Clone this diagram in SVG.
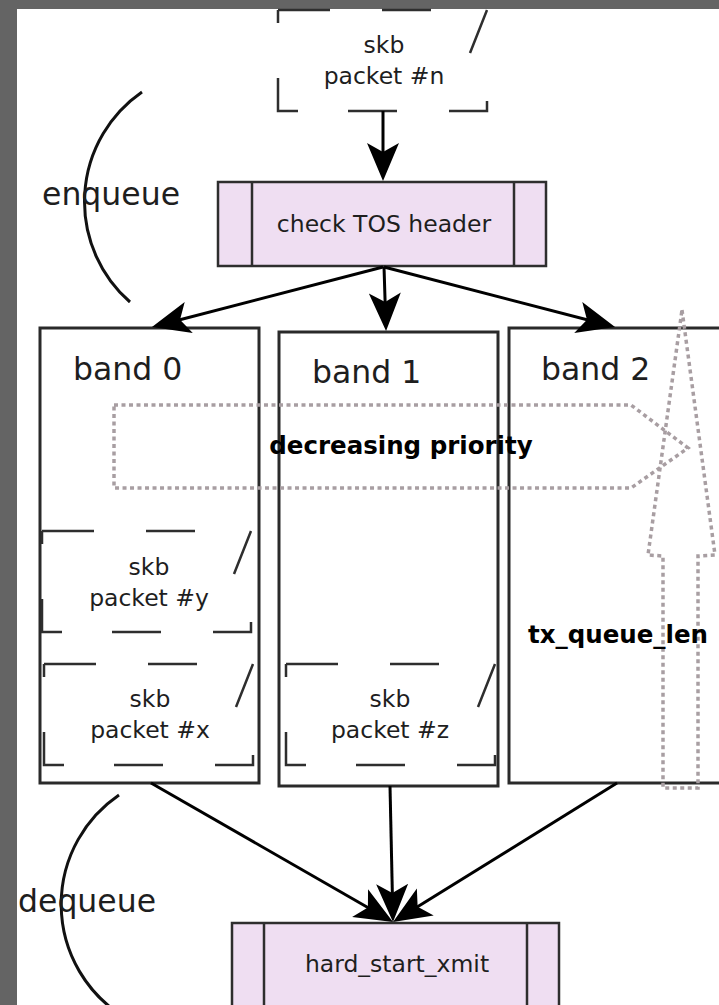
<svg xmlns="http://www.w3.org/2000/svg" xmlns:xlink="http://www.w3.org/1999/xlink" width="719" height="1005" viewBox="0 0 719 1005">
  <style>
    .lbl { font-family: "DejaVu Sans", "Liberation Sans", sans-serif; fill: #1e1e1e; }
    .small { font-size: 23.5px; }
    .big { font-size: 31.5px; }
    .bold { font-family: "DejaVu Sans", "Liberation Sans", sans-serif; font-weight: bold; font-size: 24.5px; fill: #000; }
    .band { fill: #fff; stroke: #2a2a2a; stroke-width: 3; }
    .proc { fill: #efdef2; stroke: #2e2e2e; stroke-width: 2.5; }
    .frame { fill: none; stroke: #2e2e2e; stroke-width: 2.5; }
    .edge { fill: none; stroke: #000; stroke-width: 3; }
    .arc { fill: none; stroke: #111; stroke-width: 3; }
    .dots { fill: none; stroke: #a89ea2; stroke-width: 3.5; stroke-dasharray: 4 3.5; }
  </style>
  <defs>
    <marker id="head" markerUnits="userSpaceOnUse" orient="auto" markerWidth="1" markerHeight="1" refX="0" refY="0" overflow="visible">
      <path d="M8,0 L-30,-16 L-21,0 L-30,16 Z" fill="#000"/>
    </marker>
    <!-- broken-outline packet frame, 209 x 101 -->
    <path id="skb-frame" class="frame" d="M0,0 H52 M104,0 H153 M0,0 V13 M0,68 V101 H20 M70,101 H119 M171,101 H209 V91 M209,0 L192,43"/>
  </defs>

  <rect x="0" y="0" width="719" height="1005" fill="#646464"/>
  <rect x="17" y="9" width="702" height="996" fill="#fff"/>

  <!-- queue bands -->
  <g id="band0">
    <rect class="band" x="40" y="328" width="219" height="455"/>
    <text class="lbl big" x="73" y="380">band 0</text>
  </g>
  <g id="band1">
    <rect class="band" x="279" y="332" width="219" height="454"/>
    <text class="lbl big" x="312" y="383">band 1</text>
  </g>
  <g id="band2">
    <rect class="band" x="509" y="328" width="240" height="455"/>
    <text class="lbl big" x="541" y="380">band 2</text>
  </g>

  <!-- priority and length indicators -->
  <g id="priority">
    <path class="dots" d="M114,405 L631,405 L688,448 L631,488 L114,488 Z"/>
    <text class="bold" x="401" y="454" text-anchor="middle">decreasing priority</text>
  </g>
  <g id="queue-len">
    <path class="dots" d="M682,310 L715,555 L698,556 L698,788 L663,788 L663,556 L648,555 Z"/>
    <text class="bold" x="618" y="643" text-anchor="middle">tx_queue_len</text>
  </g>

  <!-- packets -->
  <g id="packet-n">
    <use xlink:href="#skb-frame" x="278" y="10"/>
    <text class="lbl small" x="384" y="53" text-anchor="middle">skb</text>
    <text class="lbl small" x="384" y="84" text-anchor="middle">packet #n</text>
  </g>
  <g id="packet-y">
    <use xlink:href="#skb-frame" x="42" y="531"/>
    <text class="lbl small" x="149" y="575" text-anchor="middle">skb</text>
    <text class="lbl small" x="149" y="606" text-anchor="middle">packet #y</text>
  </g>
  <g id="packet-x">
    <use xlink:href="#skb-frame" x="44" y="664"/>
    <text class="lbl small" x="150" y="707" text-anchor="middle">skb</text>
    <text class="lbl small" x="150" y="738" text-anchor="middle">packet #x</text>
  </g>
  <g id="packet-z">
    <use xlink:href="#skb-frame" x="286" y="664"/>
    <text class="lbl small" x="390" y="707" text-anchor="middle">skb</text>
    <text class="lbl small" x="390" y="738" text-anchor="middle">packet #z</text>
  </g>

  <!-- classifier -->
  <g id="check-tos">
    <rect class="proc" x="218" y="182" width="328" height="84"/>
    <line class="frame" x1="252" y1="182" x2="252" y2="266"/>
    <line class="frame" x1="514" y1="182" x2="514" y2="266"/>
    <text class="lbl small" x="384" y="232" text-anchor="middle">check TOS header</text>
  </g>

  <!-- driver transmit -->
  <g id="hard-start-xmit">
    <rect class="proc" x="232" y="923" width="327" height="100"/>
    <line class="frame" x1="264" y1="923" x2="264" y2="1010"/>
    <line class="frame" x1="527" y1="923" x2="527" y2="1010"/>
    <text class="lbl small" x="397" y="972" text-anchor="middle">hard_start_xmit</text>
  </g>

  <!-- phase labels -->
  <g id="enqueue">
    <path class="arc" d="M142,92 A133.4,133.4 0 0,0 130,302"/>
    <text class="lbl big" x="42" y="205">enqueue</text>
  </g>
  <g id="dequeue">
    <path class="arc" d="M119,795 A132.3,132.3 0 0,0 121,1015"/>
    <text class="lbl big" x="18" y="912">dequeue</text>
  </g>

  <!-- connectors -->
  <g id="connectors">
    <line class="edge" x1="383" y1="111" x2="383" y2="173" marker-end="url(#head)"/>
    <line class="edge" x1="383" y1="267" x2="159.7" y2="325" marker-end="url(#head)"/>
    <line class="edge" x1="384" y1="267" x2="385.8" y2="323" marker-end="url(#head)"/>
    <line class="edge" x1="384" y1="267" x2="607.3" y2="325" marker-end="url(#head)"/>
    <line class="edge" x1="151" y1="783" x2="386.1" y2="918" marker-end="url(#head)"/>
    <line class="edge" x1="390" y1="786" x2="392.8" y2="914" marker-end="url(#head)"/>
    <line class="edge" x1="617" y1="783" x2="399.8" y2="917.8" marker-end="url(#head)"/>
  </g>
</svg>
